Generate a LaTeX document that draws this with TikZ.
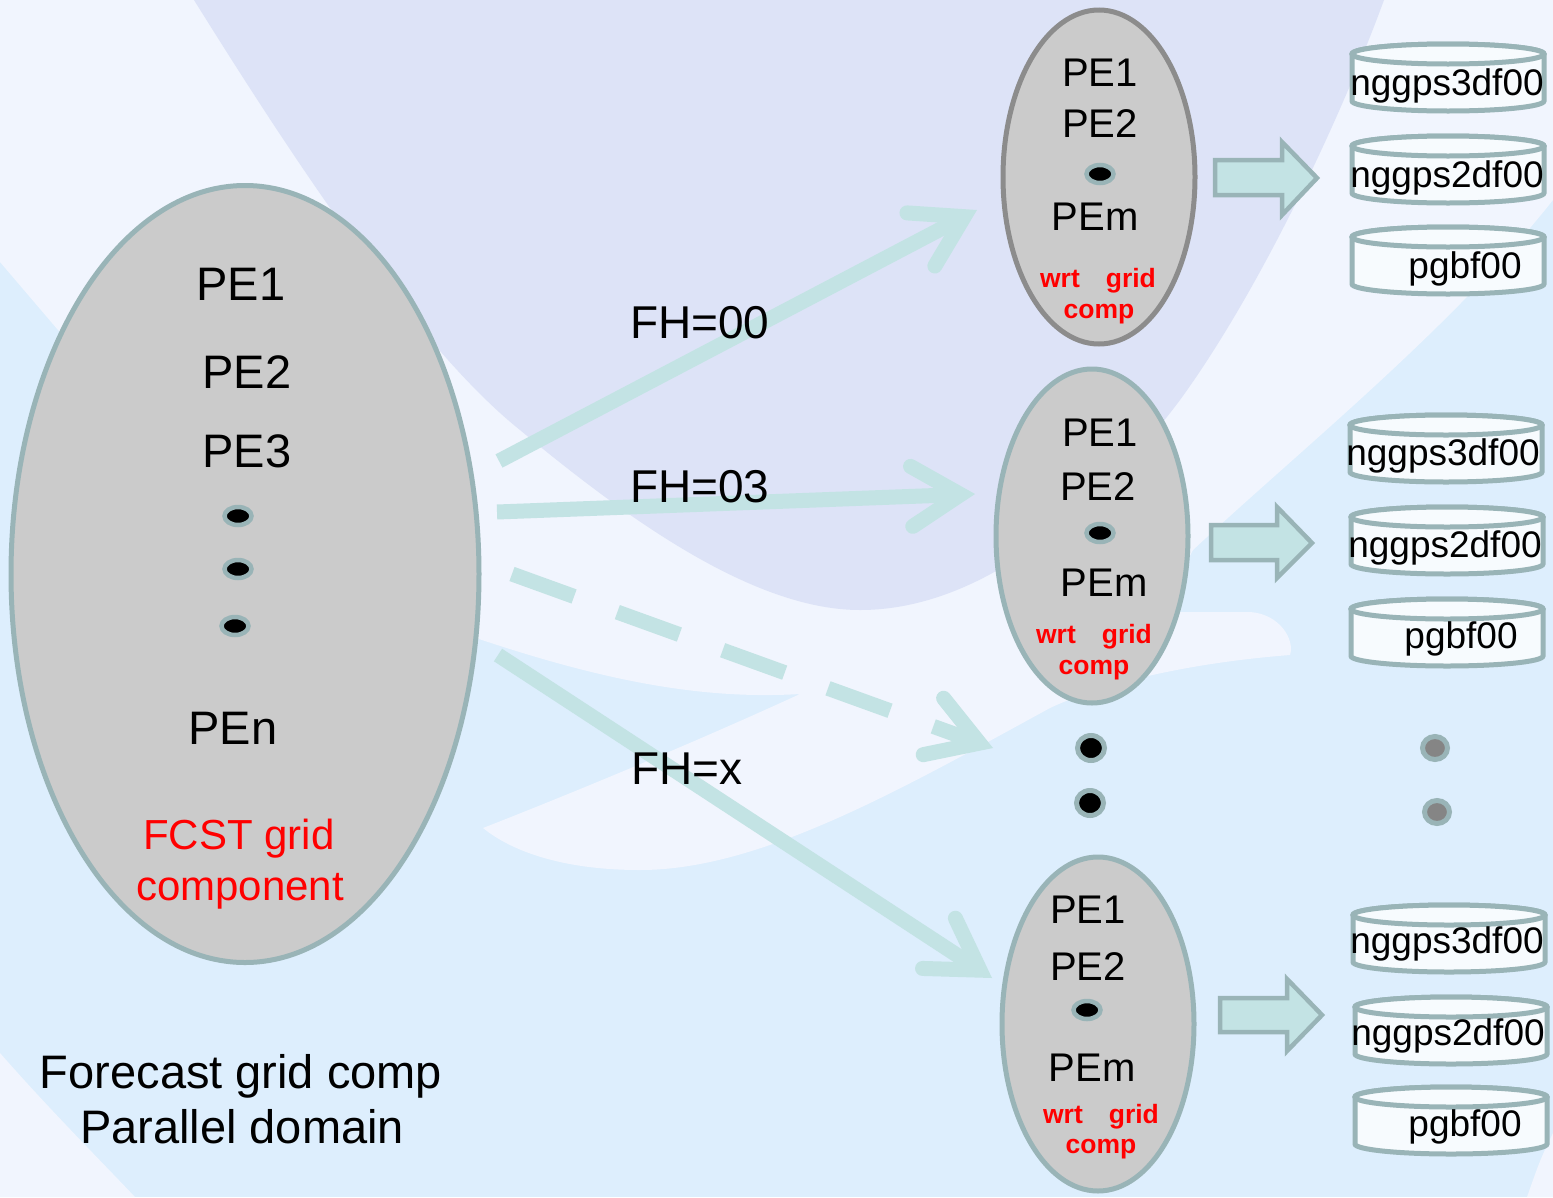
\documentclass[tikz,border=0pt]{standalone}
\usepackage{fontspec}
\setmainfont{Liberation Sans}
\usetikzlibrary{shapes.geometric,arrows.meta}
\definecolor{LB}{HTML}{DDEEFD}
\definecolor{LT}{HTML}{F1F5FE}
\definecolor{LV}{HTML}{DDE3F7}
\definecolor{EG}{HTML}{CBCBCB}
\definecolor{TB}{HTML}{99B4B7}
\definecolor{GB}{HTML}{8C8C8C}
\definecolor{AR}{HTML}{C3E3E4}
\definecolor{DF}{HTML}{F7FBFE}
\definecolor{DG}{HTML}{858585}
\newcommand\mydisk[2]{%
  \filldraw[diskline] ({#1-96},#2) -- ({#1-96},{#2+47}) arc[start angle=180,end angle=0,x radius=96,y radius=10] -- ({#1+96},#2) arc[start angle=0,end angle=-180,x radius=96,y radius=10] -- cycle;
  \draw[diskline] (#1,#2) ellipse[x radius=96,y radius=10];}
\tikzset{
  diskline/.style={draw=TB,fill=DF,line width=5pt},
  txt/.style={anchor=base,inner sep=0pt,text=black},
  bigT/.style={txt,font=\fontsize{47}{56}\selectfont},
  fhT/.style={txt,anchor=base west,font=\fontsize{46}{55}\selectfont},
  smT/.style={txt,font=\fontsize{40}{48}\selectfont},
  redT/.style={txt,text=red,font=\fontsize{42}{50}\selectfont},
  wrtT/.style={txt,text=red,font=\fontsize{26.5}{32}\bfseries\selectfont},
  dskT/.style={txt,font=\fontsize{37}{44}\selectfont},
  bigell/.style={ellipse,draw=TB,fill=EG,line width=5pt,minimum width=468pt,minimum height=777pt,inner sep=0pt},
  smell/.style={ellipse,draw=TB,fill=EG,line width=5pt,minimum width=192pt,minimum height=334pt,inner sep=0pt},
  pedot/.style={ellipse,fill=black,draw=TB,line width=4.5pt,minimum width=27pt,minimum height=18pt,inner sep=0pt},
  bigdot/.style={ellipse,fill=black,draw=TB,line width=5pt,minimum width=27pt,minimum height=25pt,inner sep=0pt},
  graydot/.style={ellipse,fill=DG,draw=TB,line width=5pt,minimum width=25pt,minimum height=23pt,inner sep=0pt},
  blk/.style={fill=AR,draw=TB,line width=4.5pt,line join=miter},
  conn/.style={draw=AR,line width=15pt,-{Straight Barb[length=49pt,width=60pt,line cap=round,line join=miter]}}
}
\begin{document}
\begin{tikzpicture}[x=1pt,y=-1pt]
\useasboundingbox (0,0) rectangle (1553,1197);
% background
\fill[LB] (0,0) rectangle (1553,1197);
\fill[LT] (0,0) -- (1553,0) -- (1553,200) .. controls (1450,330) and (1300,450) .. (1193,550)
  -- (1160,612) -- (1250,612) .. controls (1280,614) and (1295,640) .. (1290,655)
  .. controls (1200,662) and (1110,680) .. (1050,708)
  .. controls (900,790) and (760,870) .. (640,870)
  .. controls (560,870) and (510,850) .. (483,828)
  .. controls (580,790) and (700,740) .. (800,694)
  .. controls (700,700) and (600,680) .. (470,636)
  -- (300,500) -- (58,330) -- (0,262) -- cycle;
\fill[LT] (0,1053) .. controls (50,1110) and (100,1160) .. (135,1197) -- (0,1197) -- cycle;
\fill[LT] (1553,1133) .. controls (1540,1160) .. (1527,1197) -- (1553,1197) -- cycle;
\fill[LV] (194,0) .. controls (300,170) and (420,350) .. (520,430)
  .. controls (640,530) and (760,610) .. (860,610)
  .. controls (1000,610) and (1120,480) .. (1180,400)
  .. controls (1260,290) and (1340,120) .. (1384,0) -- cycle;

% big ellipse
\node[bigell] (fcst) at (245,574) {};
\node[bigT] (p1) at (241,300) {PE1};
\node[bigT] (p2) at (247,388) {PE2};
\node[bigT] (p3) at (247,467) {PE3};
\node[pedot] (d1) at (238,516) {};
\node[pedot] (d2) at (238,569) {};
\node[pedot] (d3) at (235,626) {};
\node[bigT] (pn) at (233,744) {PEn};
\node[redT] (r1) at (239,849) {FCST grid};
\node[redT] (r2) at (240,900) {component};
\node[bigT] (cap1) at (241,1088) {Forecast grid comp};
\node[bigT] (cap2) at (242,1143) {Parallel domain};

% write ellipses
\node[smell,draw=GB] (w1) at (1099,177) {};
\node[smT] (w1a) at (1100,86) {PE1};
\node[smT] (w1b) at (1100,137) {PE2};
\node[pedot] (w1d) at (1100,174) {};
\node[smT] (w1c) at (1095,230) {PEm};
\node[wrtT] (w1r) at (1098,287) {wrt\hspace{26pt}grid};
\node[wrtT] (w1s) at (1099,318) {comp};

\node[smell] (w2) at (1092,536) {};
\node[smT] (w2a) at (1100,446) {PE1};
\node[smT] (w2b) at (1098,500) {PE2};
\node[pedot] (w2d) at (1100,533) {};
\node[smT] (w2c) at (1104,596) {PEm};
\node[wrtT] (w2r) at (1094,643) {wrt\hspace{26pt}grid};
\node[wrtT] (w2s) at (1094,674) {comp};

\node[smell] (w3) at (1098,1024) {};
\node[smT] (w3a) at (1088,923) {PE1};
\node[smT] (w3b) at (1088,980) {PE2};
\node[pedot] (w3d) at (1087,1010) {};
\node[smT] (w3c) at (1092,1081) {PEm};
\node[wrtT] (w3r) at (1101,1123) {wrt\hspace{26pt}grid};
\node[wrtT] (w3s) at (1101,1153) {comp};

\node[bigdot] (m1) at (1091,748) {};
\node[bigdot] (m2) at (1090,803) {};
\node[graydot] (g1) at (1435,748) {};
\node[graydot] (g2) at (1437,812) {};

% connectors
\coordinate (a1s) at (499,461); \coordinate (a1e) at (977,210);
\coordinate (a2s) at (497,512); \coordinate (a2e) at (975,494);
\coordinate (a3s) at (512,574); \coordinate (a3e) at (993,748);
\coordinate (a4s) at (498,655); \coordinate (a4e) at (992,978);
\draw[conn] (a1s) -- (a1e);
\draw[conn] (a2s) -- (a2e);
\draw[conn,dash pattern=on 66pt off 46pt] (a3s) -- (a3e);
\draw[conn] (a4s) -- (a4e);
\node[fhT] (fh0) at (630,338) {FH=00};
\node[fhT] (fh3) at (630,502) {FH=03};
\node[fhT] (fhx) at (631,784) {FH=x};

% block arrows
\filldraw[blk] (1215,160) -- (1282,160) -- (1282,142) -- (1317,178) -- (1282,215) -- (1282,195) -- (1215,195) -- cycle;
\filldraw[blk] (1211,525) -- (1277,525) -- (1277,507) -- (1312,543) -- (1277,578) -- (1277,560) -- (1211,560) -- cycle;
\filldraw[blk] (1220,998) -- (1287,998) -- (1287,979) -- (1322,1015) -- (1287,1051) -- (1287,1032) -- (1220,1032) -- cycle;

% disks
\mydisk{1448}{54}
\node[dskT] (f11) at (1447,95) {nggps3df00};
\mydisk{1448}{146}
\node[dskT] (f12) at (1447,187) {nggps2df00};
\mydisk{1448}{237}
\node[dskT] (f13) at (1465,278) {pgbf00};

\mydisk{1446}{425}
\node[dskT] (f21) at (1443,465) {nggps3df00};
\mydisk{1447}{517}
\node[dskT] (f22) at (1445,557) {nggps2df00};
\mydisk{1447}{609}
\node[dskT] (f23) at (1461,648) {pgbf00};

\mydisk{1449}{915}
\node[dskT] (f31) at (1447,953) {nggps3df00};
\mydisk{1451}{1007}
\node[dskT] (f32) at (1448,1045) {nggps2df00};
\mydisk{1451}{1097}
\node[dskT] (f33) at (1465,1136) {pgbf00};
\end{tikzpicture}
\end{document}
